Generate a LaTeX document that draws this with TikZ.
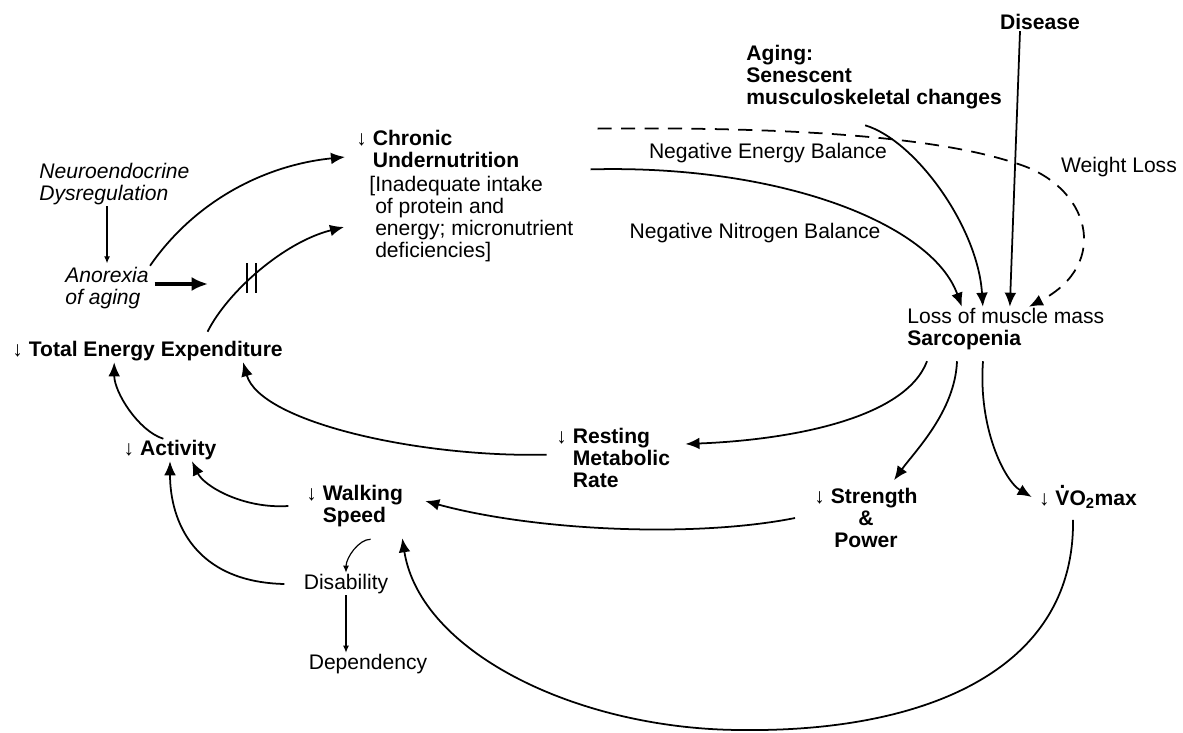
\documentclass[tikz,border=0pt]{standalone}
\usepackage{fontspec}
\setmainfont{Liberation Sans}
\usetikzlibrary{arrows.meta}
\newcommand{\dotV}{\leavevmode\rlap{\hspace{0.2em}\raisebox{0.78em}{.}}V}

\tikzset{
  txt/.style={font=\fontsize{18}{18.8}\selectfont, inner sep=1pt},
  btxt/.style={font=\fontsize{18}{18.8}\selectfont\bfseries, inner sep=1pt},
  itxt/.style={font=\fontsize{18}{18.8}\selectfont\itshape, inner sep=1pt},
  conn/.style={line width=1.5pt, -{Latex[length=12pt,width=10pt]}},
  smallconn/.style={line width=1pt, -{Latex[length=6pt,width=5pt]}},
  thickconn/.style={line width=2.6pt, -{Latex[length=14pt,width=12pt]}},
  dashconn/.style={conn, dash pattern=on 12pt off 8pt}
}

\begin{document}
\begin{tikzpicture}[x=0.03cm,y=-0.03cm]
\useasboundingbox (0,0) rectangle (1183,733);
% left side
\node[itxt, anchor=west, align=left] (neuro) at (38,184) {Neuroendocrine\\Dysregulation};
\node[itxt, anchor=west, align=left] (anorexia) at (64,288) {Anorexia\\of aging};
\node[btxt, anchor=west] (tee) at (11,351) {↓ Total Energy Expenditure};
\node[btxt] (activity) at (170,450) {↓ Activity};
\node[btxt, anchor=west, align=left] (walking) at (305,506) {↓ Walking\\\phantom{↓ }Speed};
\node[txt] (disab) at (346,584) {Disability};
\node[txt] (depend) at (368,664) {Dependency};
% top
\node[btxt, anchor=west, align=left] (chronic) at (355,149) {↓ Chronic\\\phantom{↓ }Undernutrition};
\node[txt, anchor=west, align=left] (chronicdet) at (368,219) {[Inadequate intake\\\phantom{[}of protein and\\\phantom{[}energy; micronutrient\\\phantom{[}deficiencies]};
\node[txt] (neb) at (768,153) {Negative Energy Balance};
\node[txt] (nnb) at (755,233) {Negative Nitrogen Balance};
\node[txt] (wl) at (1119,167) {Weight Loss};
\node[btxt, anchor=west, align=left] (aging) at (745,77) {Aging:\\Senescent\\musculoskeletal changes};
\node[btxt] (disease) at (1040,22) {Disease};
% right side
\node[txt, anchor=west, align=left] (muscle) at (906,329) {Loss of muscle mass\\\textbf{Sarcopenia}};
\node[btxt, anchor=west, align=left] (rmr) at (555,458) {↓ Resting\\\phantom{↓ }Metabolic\\\phantom{↓ }Rate};
\node[btxt, align=center] (strength) at (866,518) {↓ Strength\\\&\\Power};
\node[btxt] (vo2) at (1088,497) {↓ \dotV O\textsubscript{2}max};

\coordinate (block) at (208,284);
\coordinate (wlbend) at (1015,163);
\coordinate (vbottom) at (743,730);

\draw[smallconn, shorten >=2pt] (anorexia.north |- neuro.south) -- (anorexia.north);
\draw[thickconn, shorten <=4pt] (anorexia.east |- block) -- (block);
\draw[conn] (anorexia.north east) .. controls +(45,-65) and +(-80,8) .. ([xshift=-0.3cm,yshift=-0.24cm]chronic.west);
\draw[conn] ([xshift=1.8cm,yshift=0.24cm]tee.north) .. controls +(20,-40) and +(-60,15) .. ([xshift=-0.72cm,yshift=-0.24cm]chronicdet.west)
  coordinate[pos=0.43] (blk);
\draw[line width=1.2pt] ([xshift=-0.12cm]blk) ++(0,-15) -- ++(0,30);
\draw[line width=1.2pt] ([xshift=0.15cm]blk) ++(0,-15) -- ++(0,30);

% into the muscle
\draw[dashconn] ([xshift=2.31cm]chronic.north east) .. controls +(203,-2) and +(-75,-25) .. (wlbend)
  .. controls +(75,22) and +(83,-43) .. ([xshift=0.69cm]muscle.north);
\draw[conn] ([xshift=2.1cm]chronic.south east) .. controls +(190,-5) and +(-30,-83) .. ([xshift=-1.32cm]muscle.north);
\draw[conn] ([xshift=-0.27cm,yshift=-0.45cm]aging.south) .. controls +(50,15) and +(-5,-80) .. ([xshift=-0.69cm]muscle.north);
\draw[conn] ([xshift=-0.6cm]disease.south) -- ([xshift=0.12cm]muscle.north);

% out of the muscle
\draw[conn] ([xshift=0.63cm,yshift=-0.3cm]muscle.south west) .. controls +(-22,58) and +(103,-4) .. ([xshift=0.42cm,yshift=0.42cm]rmr.east);
\draw[conn] ([xshift=1.53cm,yshift=-0.3cm]muscle.south west) .. controls +(-2,50) and +(21,-29) .. ([xshift=0.84cm,yshift=0.2cm]strength.north);
\draw[conn] ([xshift=2.31cm,yshift=-0.3cm]muscle.south west) .. controls +(-5,67) and +(-27,-16) .. ([xshift=-0.18cm]vo2.west);

% back to the left
\draw[conn] ([xshift=-0.25cm,yshift=0.1cm]rmr.west) .. controls +(-127,3) and +(17,60) .. ([xshift=-1.23cm]tee.south east);
\draw[conn] ([xshift=-0.2cm]activity.north) .. controls +(-25,-8) and +(0,30) .. ([xshift=-1cm]tee.south);
\draw[conn] ([xshift=-0.5cm]walking.west) .. controls +(-45,3) and +(12,25) .. ([xshift=0.66cm]activity.south);
\draw[conn] ([xshift=-0.54cm]disab.west) .. controls +(-90,-2) and +(0,60) .. (activity.south);
\draw[conn] ([xshift=-0.54cm]strength.west) .. controls +(-100,20) and +(110,30) .. ([xshift=0.63cm,yshift=0.15cm]walking.east);
\draw[conn] ([xshift=-0.45cm,yshift=-0.3cm]vo2.south) .. controls +(2,153) and +(177,2) .. (vbottom)
  .. controls +(-163,0) and +(18,115) .. ([xshift=-0.06cm,yshift=-0.3cm]walking.south east);
\draw[smallconn] ([xshift=0.48cm,yshift=-0.33cm]walking.south) .. controls +(-12,0) and +(0,-15) .. (disab.north);
\draw[smallconn] (disab.south) -- (disab.south |- depend.north);
\end{tikzpicture}
\end{document}
